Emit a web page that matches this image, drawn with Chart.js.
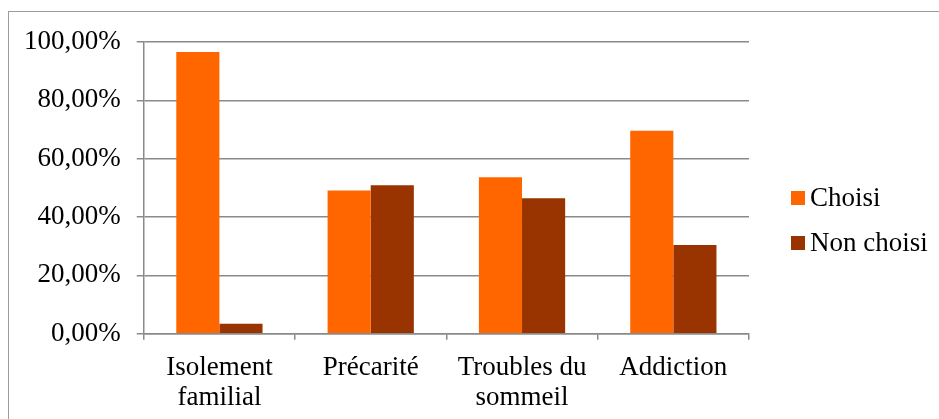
<!DOCTYPE html>
<html>
<head>
<meta charset="utf-8">
<script src="https://cdn.jsdelivr.net/npm/chart.js@4"></script>
<style>
  body { margin: 0; background: #fff; overflow: hidden; }
  #wrap { position: relative; width: 939px; height: 419px; }
  #frame { position: absolute; left: 8px; top: 11px; width: 1000px; height: 500px; border: 1.5px solid #9c9c9c; }
  canvas { position: absolute; left: 0; top: 0; }
  .legend { position: absolute; left: 791px; font-family: 'Liberation Serif', 'Times New Roman', serif; font-size: 27px; color: #000; }
  .legend .row { position: absolute; left: 0; white-space: nowrap; height: 30px; line-height: 30px; }
  .legend .box { display: inline-block; width: 14px; height: 14px; vertical-align: middle; margin-right: 5px; position: relative; top: -2px; }
</style>
</head>
<body>
<div id="wrap">
  <div id="frame"></div>
  <canvas id="chart" width="939" height="419"></canvas>
  <div class="legend" id="legend"></div>
</div>
<script>
const categories = [['Isolement', 'familial'], 'Précarité', ['Troubles du', 'sommeil'], 'Addiction'];
const seriesNames = ['Choisi', 'Non choisi'];
const choisi = [96.6, 49.1, 53.6, 69.6];
const nonChoisi = [3.4, 50.9, 46.4, 30.4];
const colors = ['#FF6600', '#993300'];
const yTicks = [0, 20, 40, 60, 80, 100];

const gridColor = '#8a8a8a';
const font = { family: "'Liberation Serif', 'Times New Roman', serif", size: 27 };

new Chart(document.getElementById('chart'), {
  type: 'bar',
  data: {
    labels: categories,
    datasets: [
      { label: seriesNames[0], data: choisi, backgroundColor: colors[0] },
      { label: seriesNames[1], data: nonChoisi, backgroundColor: colors[1] }
    ]
  },
  options: {
    responsive: false,
    animation: false,
    events: [],
    layout: { padding: { left: 8, top: 42, right: 190, bottom: -7 } },
    plugins: { legend: { display: false }, tooltip: { enabled: false } },
    datasets: { bar: { categoryPercentage: 0.57, barPercentage: 1 } },
    scales: {
      x: {
        grid: { display: true, drawOnChartArea: false, tickLength: 6, color: gridColor, lineWidth: 1.5 },
        border: { display: true, color: gridColor, width: 1.5 },
        ticks: { color: '#000', font: { ...font, lineHeight: 1.08 }, padding: 14, maxRotation: 0 }
      },
      y: {
        min: 0,
        max: 100,
        afterBuildTicks: scale => { scale.ticks = yTicks.map(v => ({ value: v })); },
        grid: { color: gridColor, lineWidth: 1.5, tickLength: 7 },
        border: { display: true, color: gridColor, width: 1.5 },
        ticks: {
          color: '#000',
          font: font,
          padding: 16,
          callback: v => v.toFixed(2).replace('.', ',') + '%'
        }
      }
    }
  }
});

// legend
const legend = document.getElementById('legend');
seriesNames.forEach((name, i) => {
  const row = document.createElement('div');
  row.className = 'row';
  row.style.top = (182 + i * 45) + 'px';
  row.innerHTML = `<span class="box" style="background:${colors[i]}"></span>${name}`;
  legend.appendChild(row);
});
</script>
</body>
</html>
